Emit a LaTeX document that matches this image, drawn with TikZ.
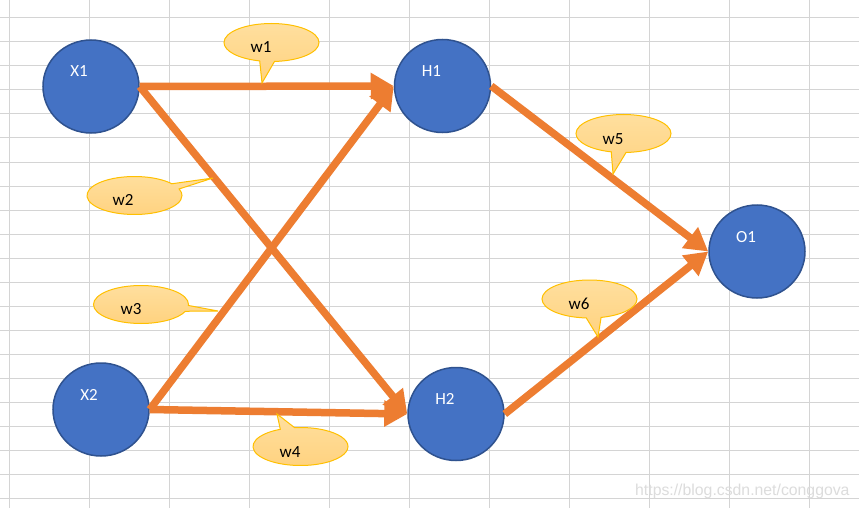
\documentclass[tikz,border=0pt]{standalone}
\usepackage{fontspec}
\setmainfont{Carlito}
\newfontfamily\wmfont{Liberation Sans}
\usetikzlibrary{shapes.geometric,shapes.callouts,arrows.meta}

\definecolor{gridgray}{HTML}{D4D4D4}
\definecolor{nodeblue}{HTML}{4472C4}
\definecolor{nodeedge}{HTML}{2F528F}
\definecolor{wireorange}{HTML}{ED7D31}
\definecolor{tagtop}{HTML}{FFDF9E}
\definecolor{tagbottom}{HTML}{FFD27F}
\definecolor{tagedge}{HTML}{FFC000}
\definecolor{wmgray}{HTML}{DCDCDC}

% text placed off the node centre: #1 horizontal shift (doubled), #2 raise of the baseline
\newcommand\shiftedtext[3]{\smash{\raisebox{#2}{\makebox[0pt]{\kern#1 #3}}}}

\tikzset{
  gridline/.style={draw=gridgray, line width=1pt},
  neuron/.style={ellipse, minimum width=96pt, minimum height=93pt, inner sep=0pt,
    fill=nodeblue, draw=nodeedge, line width=1.5pt, text=white,
    font=\fontsize{17}{20}\selectfont},
  wire/.style={draw=wireorange, line width=7.5pt,
    -{Triangle[length=23pt,width=25pt]}},
  weighttag/.style={ellipse callout, minimum width=95pt, minimum height=38pt, inner sep=0pt,
    top color=tagtop, bottom color=tagbottom, draw=tagedge, line width=1pt,
    callout pointer arc=18, text=black, font=\fontsize{17}{20}\selectfont},
}

\begin{document}
\begin{tikzpicture}[x=1pt, y=-1pt]
  % page and spreadsheet grid
  \fill[white] (0,0) rectangle (859,508);
  \useasboundingbox (0,0) rectangle (859,508);
  \foreach \gx in {9,89,...,809} \draw[gridline] (\gx,0) -- (\gx,508);
  \foreach \gy in {18,42,...,498} \draw[gridline] (0,\gy) -- (859,\gy);

  % neurons
  \node[neuron] (X1) at (91,86.5)   {\shiftedtext{-24pt}{9.5pt}{X1}};
  \node[neuron] (X2) at (101,409.5) {\shiftedtext{-24pt}{9.5pt}{X2}};
  \node[neuron] (H1) at (442.5,86)  {\shiftedtext{-22pt}{9.5pt}{H1}};
  \node[neuron] (H2) at (456,414)   {\shiftedtext{-22pt}{9.5pt}{H2}};
  \node[neuron] (O1) at (757,251.5) {\shiftedtext{-22pt}{9.5pt}{O1}};

  % weighted connections
  \draw[wire] (X1.east) -- (H1.west);
  \draw[wire] (X1.east) -- (H2.west);
  \draw[wire] (X2.east) -- (H1.west);
  \draw[wire] (X2.east) -- (H2.west);
  \draw[wire] (H1.east) -- (O1.west);
  \draw[wire] (H2.east) -- (O1.west);

  % weight labels
  \node[weighttag, callout absolute pointer={(262,83)}]  (w1) at (271.5,42.5)  {\shiftedtext{-21pt}{-10.5pt}{w1}};
  \node[weighttag, callout absolute pointer={(213,178)}] (w2) at (134.5,195.5) {\shiftedtext{-23pt}{-10pt}{w2}};
  \node[weighttag, callout absolute pointer={(218,311)}] (w3) at (141,304.5)   {\shiftedtext{-20pt}{-10pt}{w3}};
  \node[weighttag, callout absolute pointer={(277,414)}] (w4) at (300.5,446.5) {\shiftedtext{-21pt}{-11pt}{w4}};
  \node[weighttag, callout absolute pointer={(613,174)}] (w5) at (623.5,133.5) {\shiftedtext{-21pt}{-10.5pt}{w5}};
  \node[weighttag, callout absolute pointer={(598,337)}] (w6) at (589.5,299)   {\shiftedtext{-21pt}{-10.5pt}{w6}};

  % site address
  \node[anchor=base west, inner sep=0pt, text=wmgray,
        font=\wmfont\fontsize{15.8}{18}\selectfont] (site) at (635,495)
        {https://blog.csdn.net/conggova};
\end{tikzpicture}
\end{document}
